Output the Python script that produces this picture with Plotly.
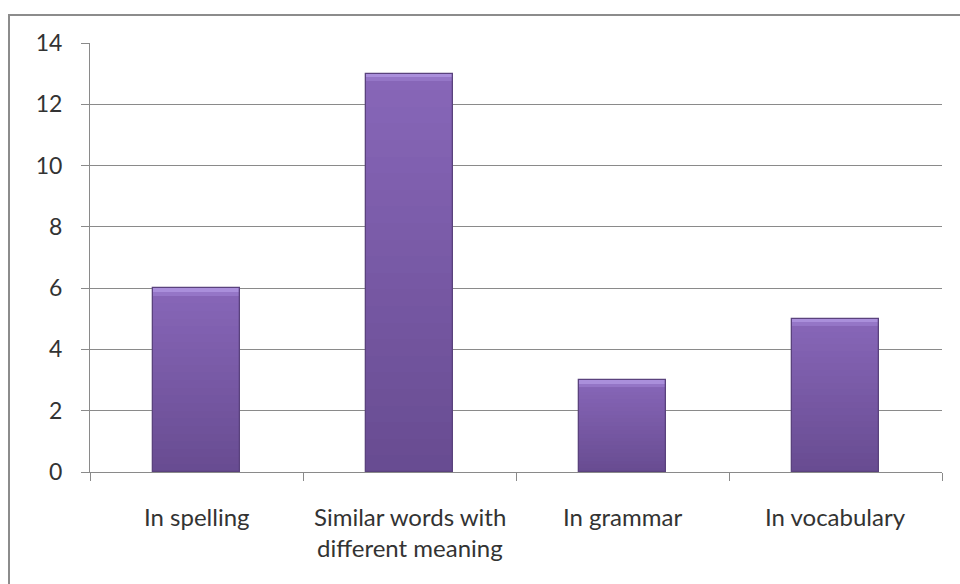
import plotly.graph_objects as go

# Chart data
categories = ["In spelling", "Similar words with\ndifferent meaning", "In grammar", "In vocabulary"]
values = [6, 13, 3, 5]
y_ticks = [0, 2, 4, 6, 8, 10, 12, 14]

FONT = "Lato"
TEXT = "#333333"
GRID = "#8a8a8a"

# Vertical shading: dark at the base, lighter near the top
bottom_rgb = (0x67, 0x4b, 0x90)
top_rgb = (0x87, 0x66, 0xb8)
N = 24


def mix(t):
    r, g, b = (round(bottom_rgb[i] + (top_rgb[i] - bottom_rgb[i]) * t) for i in range(3))
    return f"rgb({r},{g},{b})"


fig = go.Figure()
xs = list(range(len(categories)))
BAR_W = 0.41

# Each layer runs from zero up to a fraction of the value; taller, lighter
# layers are drawn first so the shorter, darker ones sit over them.
for k in range(N, 0, -1):
    f = k / N
    fig.add_trace(go.Bar(
        x=xs, y=[v * f for v in values], width=BAR_W,
        marker=dict(color=mix(f), line=dict(width=0)),
        hoverinfo="skip", showlegend=False,
    ))

# Bevel highlight along the top of each bar (two soft steps)
for h, col in ((0.24, "rgba(160,132,212,0.55)"), (0.12, "rgba(178,152,226,0.75)")):
    fig.add_trace(go.Bar(
        x=xs, y=[h] * len(values), base=[v - h for v in values], width=BAR_W,
        marker=dict(color=col, line=dict(width=0)),
        hoverinfo="skip", showlegend=False,
    ))
# Dark outline
fig.add_trace(go.Bar(
    x=xs, y=values, width=BAR_W,
    marker=dict(color="rgba(0,0,0,0)", line=dict(color="#5a427d", width=1.3)),
    hovertemplate="%{y}<extra></extra>", showlegend=False,
))

# Category labels, one annotation per line
annotations = []
for i, label in enumerate(categories):
    for j, line in enumerate(label.split("\n")):
        annotations.append(dict(
            x=i, y=0, xref="x", yref="paper", text=line, showarrow=False,
            yanchor="middle", xanchor="center", yshift=-44 - 31 * j,
            font=dict(family=FONT, size=24, color=TEXT),
        ))

fig.update_layout(
    width=960, height=584,
    margin=dict(l=90, r=18, t=43, b=112),
    paper_bgcolor="white", plot_bgcolor="white",
    barmode="overlay", bargap=0,
    annotations=annotations,
    shapes=[dict(
        type="rect", xref="paper", yref="paper",
        x0=-81 / 852, x1=1.1, y0=-0.4, y1=1 + 28 / 429,
        line=dict(color="#8c8c8c", width=2), fillcolor="rgba(0,0,0,0)", layer="below",
    )],
)

fig.update_xaxes(
    range=[-0.5, len(categories) - 0.5],
    tickmode="array", tickvals=[i - 0.5 for i in range(len(categories) + 1)],
    ticktext=[""] * (len(categories) + 1),
    ticks="outside", ticklen=8, tickcolor=GRID, tickwidth=1,
    showline=True, linecolor=GRID, linewidth=1,
    showgrid=False, zeroline=False, fixedrange=True,
)
fig.update_yaxes(
    range=[0, 14], tickmode="array", tickvals=y_ticks,
    ticks="outside", ticklen=8, tickcolor=GRID, tickwidth=1,
    showline=True, linecolor=GRID, linewidth=1,
    showgrid=True, gridcolor=GRID, gridwidth=1, zeroline=False,
    tickfont=dict(family=FONT, size=23, color=TEXT),
    ticklabelstandoff=14, fixedrange=True,
)

fig.write_html("out.html", config={"displayModeBar": False})
